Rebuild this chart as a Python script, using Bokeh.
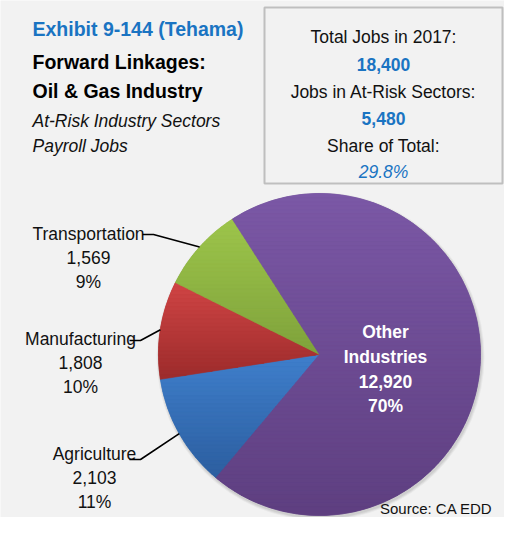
import math
from bokeh.plotting import figure
from bokeh.models import Range1d
from bokeh.embed import file_html
from bokeh.resources import INLINE
from bokeh.core.properties import value

# ---------------- data ----------------
categories = ["Agriculture", "Manufacturing", "Transportation", "Other Industries"]
jobs = [2103, 1808, 1569, 12920]
slice_top_colors = ["#3F7FCC", "#D04545", "#9DC54B", "#7B58A6"]
slice_bottom_colors = ["#2C5E9F", "#9C2B2B", "#7FA23B", "#5E3F80"]
total_jobs = 18400
at_risk_jobs = 5480
share_of_total = "29.8%"

title_lines = ["Exhibit 9-144 (Tehama)", "Forward Linkages:", "Oil & Gas Industry"]
subtitle_lines = ["At-Risk Industry Sectors", "Payroll Jobs"]
box_labels = ["Total Jobs in 2017:", "Jobs in At-Risk Sectors:", "Share of Total:"]
source_text = "Source: CA EDD"

# ---------------- layout ----------------
H = 533
FONT = "Liberation Sans"
BLUE = "#1A74C2"
BG = "#F2F2F2"


def Y(ry):
    return H - ry


p = figure(width=504, height=517, output_backend="svg", toolbar_location=None,
           x_range=Range1d(8, 512), y_range=Range1d(Y(524), Y(7)),
           min_border=0, background_fill_color=BG, border_fill_color=BG)
p.axis.visible = False
p.grid.visible = False
p.outline_line_color = None


def txt(x, ry, s, size, color="#000000", style="normal", align="left"):
    p.text(x=[x], y=[Y(ry)], text=[s], text_font=value(FONT),
           text_font_size=size, text_color=color, text_font_style=style,
           text_align=align, text_baseline="alphabetic")


def hex2rgb(h):
    return tuple(int(h[i:i + 2], 16) for i in (1, 3, 5))


def mix(c0, c1, f):
    a, b = hex2rgb(c0), hex2rgb(c1)
    return "#%02x%02x%02x" % tuple(int(round(a[k] + (b[k] - a[k]) * f)) for k in range(3))


def clip_half(poly, yv, keep_below):
    out = []
    n = len(poly)
    for i in range(n):
        P, Q = poly[i], poly[(i + 1) % n]
        inP = P[1] >= yv if keep_below else P[1] <= yv
        inQ = Q[1] >= yv if keep_below else Q[1] <= yv
        if inP:
            out.append(P)
        if inP != inQ:
            t = (yv - P[1]) / (Q[1] - P[1])
            out.append((P[0] + t * (Q[0] - P[0]), yv))
    return out


# title block
txt(40, 35, title_lines[0], "19.5px", BLUE, "bold")
txt(40, 68, title_lines[1], "19.5px", "#000000", "bold")
txt(40, 97, title_lines[2], "19.5px", "#000000", "bold")
txt(40, 127, subtitle_lines[0], "17.5px", "#111111", "italic")
txt(40, 152, subtitle_lines[1], "17.5px", "#111111", "italic")

# info box
p.quad(left=[272], right=[510], top=[Y(14)], bottom=[Y(190)],
       fill_color=BG, line_color="#BFBFBF", line_width=2)
bx = 391
txt(bx, 43, box_labels[0], "17.5px", "#111111", align="center")
txt(bx, 71, f"{total_jobs:,}", "17.5px", BLUE, "bold", "center")
txt(bx, 98, box_labels[1], "17.5px", "#111111", align="center")
txt(bx, 125, f"{at_risk_jobs:,}", "17.5px", BLUE, "bold", "center")
txt(bx, 152, box_labels[2], "17.5px", "#111111", align="center")
txt(bx, 178, share_of_total, "17.5px", BLUE, "italic", "center")

# pie
cx, cy, R = 327, 361, 161
start_cw = 220.0  # degrees clockwise from 12 o'clock for first slice
total = sum(jobs)

# soft shadow
for k, a in enumerate([0.06, 0.05, 0.04]):
    p.scatter(x=[cx + 1], y=[Y(cy + 2)], size=2 * (R + 1 + k), marker="circle",
              fill_color="#000000", fill_alpha=a, line_color=None)

theta = start_cw
mids = []
band_xs, band_ys, band_cols = [], [], []
for i, (cat, v) in enumerate(zip(categories, jobs)):
    span = v / total * 360.0
    t0, t1 = theta, theta + span
    base = mix(slice_top_colors[i], slice_bottom_colors[i], 0.5)
    p.wedge(x=[cx], y=[Y(cy)], radius=R, radius_units="screen",
            start_angle=math.radians(90 - t0), end_angle=math.radians(90 - t1),
            direction="clock", fill_color=base, line_color=base, line_width=0.5)
    # gradient shading bands over the slice
    npts = max(8, int(span / 2))
    poly = [(cx, cy)]
    for k in range(npts + 1):
        t = math.radians(t0 + span * k / npts)
        poly.append((cx + R * math.sin(t), cy - R * math.cos(t)))
    ymin = min(q[1] for q in poly)
    ymax = max(q[1] for q in poly)
    nb = max(10, int((ymax - ymin) / 4))
    for b in range(nb):
        ya = ymin + (ymax - ymin) * b / nb
        yb = ymin + (ymax - ymin) * (b + 1) / nb
        part = clip_half(clip_half(poly, ya, True), yb, False)
        if len(part) >= 3:
            col = mix(slice_top_colors[i], slice_bottom_colors[i], (b + 0.5) / nb)
            band_xs.append([q[0] for q in part])
            band_ys.append([Y(q[1]) for q in part])
            band_cols.append(col)
    mids.append((t0 + t1) / 2)
    theta = t1

p.patches(xs=band_xs, ys=band_ys, fill_color=band_cols, line_color=band_cols, line_width=0.6)

# outside labels with leader lines (first three slices)
label_cx = [102, 88, 96]
label_base = [460, 345, 240]
hook = [(137, 148, 466), (137, 148, 347), (150, 161, 241)]
for i in range(3):
    pct = round(jobs[i] / total * 100)
    txt(label_cx[i], label_base[i], categories[i], "17.5px", "#111111", align="center")
    txt(label_cx[i], label_base[i] + 24, f"{jobs[i]:,}", "17.5px", "#111111", align="center")
    txt(label_cx[i], label_base[i] + 48, f"{pct}%", "17.5px", "#111111", align="center")
    a = math.radians(90 - mids[i])
    ex, ey = cx + R * math.cos(a), cy - R * math.sin(a)
    hx0, hx1, hy = hook[i]
    p.line(x=[hx0, hx1, ex], y=[Y(hy), Y(hy), Y(ey)], line_color="#000000", line_width=1.6)

# inside label for Other Industries
opct = round(jobs[3] / total * 100)
ox = 393
txt(ox, 338, "Other", "17.5px", "#FFFFFF", "bold", "center")
txt(ox, 363, "Industries", "17.5px", "#FFFFFF", "bold", "center")
txt(ox, 388, f"{jobs[3]:,}", "17.5px", "#FFFFFF", "bold", "center")
txt(ox, 412, f"{opct}%", "17.5px", "#FFFFFF", "bold", "center")

# source
txt(500, 515, source_text, "15px", "#111111", align="right")

open("out.html", "w").write(file_html(p, INLINE))
